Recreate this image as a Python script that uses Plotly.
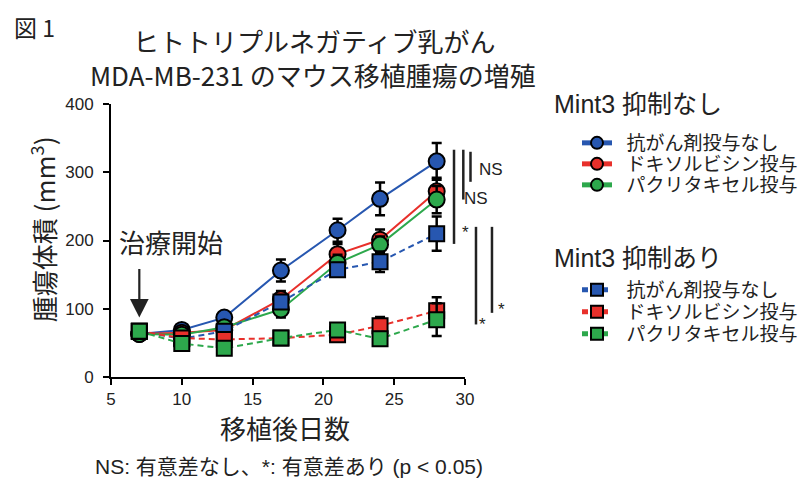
import plotly.graph_objects as go

days = [7, 10, 13, 17, 21, 24, 28]

# Mint3 抑制なし (solid, circles)
ctrl_none = [63, 69, 87, 156, 215, 261, 316]
dox_none = [63, 65, 69, 114, 180, 201, 272]
pac_none = [63, 62, 73, 99, 167, 194, 260]
err_ctrl_none = [0, 4, 5, 16, 17, 24, 27]
err_dox_none = [0, 4, 5, 12, 15, 15, 20]
err_pac_none = [0, 4, 5, 12, 12, 12, 20]

# Mint3 抑制あり (dashed, squares)
ctrl_kd = [67, 56, 67, 110, 157, 169, 210]
dox_kd = [67, 57, 55, 57, 62, 75, 97]
pac_kd = [67, 49, 42, 57, 69, 56, 84]
err_ctrl_kd = [0, 5, 5, 10, 10, 15, 25]
err_dox_kd = [0, 5, 5, 8, 8, 13, 20]
err_pac_kd = [0, 5, 5, 8, 8, 10, 24]

names = ["抗がん剤投与なし", "ドキソルビシン投与", "パクリタキセル投与"]
colors = ["#2757b0", "#e8302b", "#2da84c"]
group_titles = ["Mint3 抑制なし", "Mint3 抑制あり"]
x_ticks = [5, 10, 15, 20, 25, 30]
y_ticks = [0, 100, 200, 300, 400]

JP = "Noto Sans CJK JP"
ARIAL = "Liberation Sans, Noto Sans CJK JP"
TXT = "#222"

W, H = 805, 479
L, R, T, B = 110.7, 465.0, 104.0, 377.3

fig = go.Figure()

solid = [(ctrl_none, err_ctrl_none), (dox_none, err_dox_none), (pac_none, err_pac_none)]
dashed = [(ctrl_kd, err_ctrl_kd), (dox_kd, err_dox_kd), (pac_kd, err_pac_kd)]

# legend item centre rows (pixels from top)
legend_rows = [143, 164, 185, 290, 312, 334]
GAP = "\u2002"  # small gap between legend symbol and label

k = 0
for (vals, errs), nm, col in zip(solid, names, colors):
    k += 1
    fig.add_trace(go.Scatter(
        x=days, y=vals, name=GAP + nm, mode="lines+markers",
        line=dict(color=col, width=2),
        marker=dict(symbol="circle", size=16, color=col, line=dict(color="black", width=2)),
        error_y=dict(type="data", array=errs, color="black", thickness=2.5, width=5),
        legend="legend" if k == 1 else f"legend{k}", cliponaxis=False,
    ))

for (vals, errs), nm, col in zip(dashed, names, colors):
    k += 1
    fig.add_trace(go.Scatter(
        x=days, y=vals, name=GAP + nm, mode="lines+markers",
        line=dict(color=col, width=2, dash="6px,4px"),
        marker=dict(symbol="square", size=15, color=col, line=dict(color="black", width=2)),
        error_y=dict(type="data", array=errs, color="black", thickness=2.5, width=5),
        legend=f"legend{k}", cliponaxis=False,
    ))

def px_x(px):
    return (px - L) / (R - L)

def px_y(py):
    return (B - py) / (B - T)

# significance bars: (x pixel, y value top, y value bottom)
sig_bars = [(454, 333, 195), (463.3, 333, 260), (470.5, 330, 286), (476, 220, 77), (492, 220, 94)]
shapes = []
for px, y0, y1 in sig_bars:
    xp = px_x(px)
    shapes.append(dict(type="line", xref="paper", yref="paper", x0=xp, x1=xp,
                       y0=y0 / 400, y1=y1 / 400, line=dict(color=TXT, width=2.5)))

def txt(s, px, py, size, family=JP, anchor="center", angle=0):
    return dict(text=s, x=px_x(px), y=px_y(py), xref="paper", yref="paper",
                xanchor=anchor, yanchor="middle", showarrow=False, textangle=angle,
                font=dict(family=family, size=size, color=TXT))

annotations = [
    txt("図 1", 12, 27, 23, anchor="left"),
    txt("ヒトトリプルネガティブ乳がん", 314, 40, 26),
    txt("MDA-MB-231 のマウス移植腫瘍の増殖", 313, 74, 26),
    txt("腫瘍体積 (mm<sup>3</sup>)", 43, 229, 26, angle=-90),
    txt("移植後日数", 285, 428, 26),
    txt("NS: 有意差なし、*: 有意差あり (p < 0.05)", 289, 467, 21, family=ARIAL),
    txt("治療開始", 171, 242, 26),
    dict(text="", x=7, y=87, xref="x", yref="y", ax=0, ay=-50, axref="pixel", ayref="pixel",
         showarrow=True, arrowhead=2, arrowsize=1.7, arrowwidth=2.2, arrowcolor=TXT),
    txt("NS", 477, 170, 17, family=ARIAL, anchor="left"),
    txt("NS", 462, 199, 17, family=ARIAL, anchor="left"),
    txt("*", 465, 233, 17, family=ARIAL),
    txt("*", 483, 325, 17, family=ARIAL),
    txt("*", 502, 310, 17, family=ARIAL),
    txt(group_titles[0], 552, 104, 25, family=ARIAL, anchor="left"),
    txt(group_titles[1], 552, 258, 25, family=ARIAL, anchor="left"),
]

legend_common = dict(
    xref="container", yref="container", xanchor="left", yanchor="middle",
    bgcolor="rgba(0,0,0,0)", borderwidth=0, itemsizing="constant",
    font=dict(family=JP, size=19, color=TXT), tracegroupgap=0, itemwidth=30,
)

layout_legends = {}
for i, row in enumerate(legend_rows):
    key = "legend" if i == 0 else f"legend{i + 1}"
    layout_legends[key] = dict(x=577 / W, y=1 - row / H, **legend_common)

axis_common = dict(showline=True, linecolor="black", linewidth=2, ticks="outside", ticklen=6,
                   tickwidth=2, tickcolor="black", showgrid=False, zeroline=False,
                   tickfont=dict(family=ARIAL, size=17, color=TXT))

fig.update_layout(
    width=W, height=H,
    margin=dict(l=L, r=W - R, t=T, b=H - B, pad=0),
    paper_bgcolor="white", plot_bgcolor="white",
    showlegend=True,
    xaxis=dict(range=[5, 30], tickvals=x_ticks, ticklabelstandoff=0, **axis_common),
    yaxis=dict(range=[0, 400], tickvals=y_ticks, ticklabelstandoff=6, **axis_common),
    shapes=shapes,
    annotations=annotations,
    **layout_legends,
)

fig.write_html("out.html", config={"displayModeBar": False},
               post_script="document.body.style.margin='0';document.body.style.overflow='hidden';")
